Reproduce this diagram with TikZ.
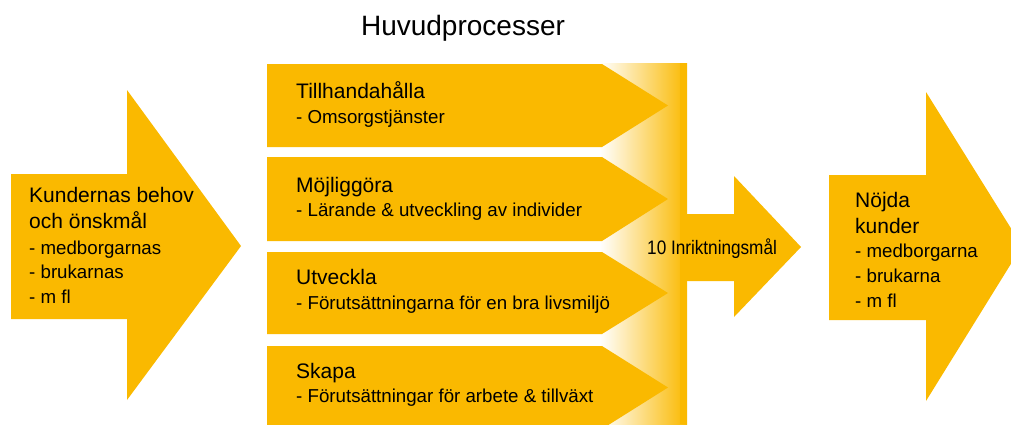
\documentclass[tikz,border=0pt]{standalone}
\usepackage{fontspec}
\setmainfont{Liberation Sans}
\definecolor{gul}{RGB}{250,185,0}
\tikzset{
  shapefill/.style={fill=gul, draw=none},
  head/.style={anchor=base west, inner sep=0pt, font=\fontsize{21}{25}\selectfont},
  sub/.style={anchor=base west, inner sep=0pt, font=\fontsize{18.7}{22}\selectfont},
}
\newcommand{\chev}[2]{%
  \fill[gul] (267,#1) -- (602,#1) -- (668,{(#1+#2)/2}) -- (602,#2) -- (267,#2) -- cycle;}
\begin{document}
\begin{tikzpicture}[x=1pt,y=-1pt]
\useasboundingbox (0,0) rectangle (1011,424);
\clip (0,0) rectangle (1011,424);
% title
\node[anchor=base, inner sep=0pt, font=\fontsize{28}{32}\selectfont] (title) at (463,35) {Huvudprocesser};
% left arrow
\fill[gul] (11,174) -- (127,174) -- (127,90) -- (241,246) -- (127,400) -- (127,319) -- (11,319) -- cycle;
\node[head] (k1) at (29,202) {Kundernas behov};
\node[head] (k2) at (29,228) {och önskmål};
\node[sub] (k3) at (29,254) {- medborgarnas};
\node[sub] (k4) at (29,278) {- brukarnas};
\node[sub] (k5) at (29,303) {- m fl};
% gradient band
\shade[left color=white, right color=gul, shading angle=90] (600,63) rectangle (687,424);
\fill[gul] (680,63) rectangle (687,424);
% chevrons
\chev{64}{147}
\chev{157}{241}
\chev{252}{334}
\chev{346}{429}
\node[head] (c1) at (296,98) {Tillhandahålla};
\node[sub] (c1s) at (296,123) {- Omsorgstjänster};
\node[head] (c2) at (296,192) {Möjliggöra};
\node[sub] (c2s) at (296,216) {- Lärande \& utveckling av individer};
\node[head] (c3) at (296,284) {Utveckla};
\node[sub] (c3s) at (296,309) {- Förutsättningarna för en bra livsmiljö};
\node[head] (c4) at (296,378) {Skapa};
\node[sub] (c4s) at (296,402) {- Förutsättningar för arbete \& tillväxt};
% middle arrow
\fill[gul] (684,214) -- (734,214) -- (734,176) -- (801,247) -- (734,317) -- (734,281) -- (684,281) -- cycle;
\node[anchor=base west, inner sep=0pt, font=\fontsize{19.5}{23}\selectfont] (mal) at (647,254) {\scalebox{0.88}[1]{10 Inriktningsmål}};
% right arrow
\fill[gul] (829,175) -- (926,175) -- (926,92) -- (1022,246) -- (926,401) -- (926,320) -- (829,320) -- cycle;
\node[head] (n1) at (855,207) {Nöjda};
\node[head] (n2) at (855,233) {kunder};
\node[sub] (n3) at (855,257) {- medborgarna};
\node[sub] (n4) at (855,282) {- brukarna};
\node[sub] (n5) at (855,307) {- m fl};
\end{tikzpicture}
\end{document}
